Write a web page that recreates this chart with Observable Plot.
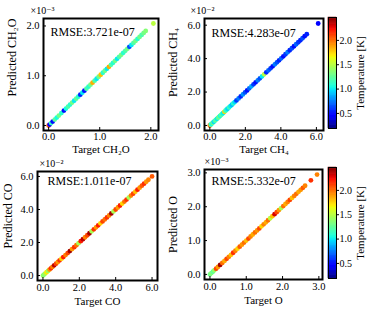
<!DOCTYPE html>
<html><head><meta charset="utf-8">
<script src="https://cdn.jsdelivr.net/npm/d3@7"></script>
<script src="https://cdn.jsdelivr.net/npm/@observablehq/plot@0.6"></script>
<style>
body{margin:0;background:#fff}
#wrap{position:relative;width:368px;height:312px;overflow:hidden;background:#fff}
#wrap svg{position:absolute}
</style></head><body><div id="wrap"></div>
<script>
// ---- data (values in the units shown on the axes) ----
const ch2oTarget = [0.00,0.02,0.05,0.08,0.12,0.16,0.20,0.25,0.30,0.34,0.38,0.42,0.46,0.50,0.54,0.58,0.62,0.66,0.70,0.74,0.78,0.82,0.86,0.90,0.94,0.98,1.02,1.06,1.10,1.14,1.18,1.22,1.26,1.30,1.34,1.38,1.42,1.46,1.50,1.54,1.58,1.62,1.66,1.70,1.74,1.78,1.82,1.86,1.90,2.05];
const ch2oPred   = [0.00,0.02,0.05,0.08,0.12,0.16,0.20,0.25,0.30,0.34,0.38,0.42,0.46,0.50,0.54,0.58,0.62,0.66,0.70,0.74,0.78,0.82,0.86,0.90,0.94,0.98,1.02,1.06,1.10,1.14,1.18,1.22,1.26,1.30,1.34,1.38,1.42,1.46,1.50,1.54,1.58,1.62,1.66,1.70,1.74,1.78,1.82,1.86,1.90,2.05];
const ch2oTemp   = [2.05,0.45,1.15,0.50,1.25,1.05,1.30,1.10,0.50,1.05,1.20,1.10,1.30,1.00,1.25,1.10,0.55,1.00,0.50,1.20,1.10,1.30,1.85,1.20,1.00,1.30,1.80,1.10,1.30,1.00,1.85,1.20,1.10,1.30,1.00,1.20,1.30,1.10,1.20,1.30,0.65,1.00,1.20,1.30,1.10,1.30,1.20,1.30,1.35,1.50];

const ch4Target = [0.00,0.05,0.10,0.16,0.22,0.28,0.34,0.40,0.46,0.52,0.58,0.64,0.70,0.76,0.82,0.88,0.94,1.00,1.08,1.16,1.24,1.32,1.40,1.50,1.62,1.74,1.86,1.98,2.10,2.22,2.34,2.46,2.58,2.70,2.82,2.94,3.06,3.18,3.30,3.42,3.54,3.66,3.78,3.90,4.02,4.14,4.26,4.38,4.50,4.62,4.74,4.86,4.98,5.10,5.22,5.34,5.46,6.10];
const ch4Pred   = [0.00,0.05,0.10,0.16,0.22,0.28,0.34,0.40,0.46,0.52,0.58,0.64,0.70,0.76,0.82,0.88,0.94,1.00,1.08,1.16,1.24,1.32,1.40,1.50,1.62,1.74,1.86,1.98,2.10,2.22,2.34,2.46,2.58,2.70,2.82,2.94,3.06,3.18,3.30,3.42,3.54,3.66,3.78,3.90,4.02,4.14,4.26,4.38,4.50,4.62,4.74,4.86,4.98,5.10,5.22,5.34,5.46,6.10];
const ch4Temp   = [2.00,1.20,1.05,1.30,0.95,1.15,1.25,1.00,1.20,1.30,1.05,1.25,1.10,1.00,1.75,1.20,1.10,0.95,1.15,1.00,0.90,1.10,0.95,0.60,0.75,0.55,0.80,0.65,0.50,0.70,0.85,0.60,0.50,0.75,0.65,1.00,1.50,0.55,0.70,0.60,0.50,0.75,0.65,0.55,0.70,0.50,0.60,0.75,0.55,0.65,0.50,0.70,0.60,0.55,0.65,0.50,0.55,0.45];

const coTarget = [0.00,0.06,0.12,0.20,0.28,0.36,0.44,0.52,0.62,0.72,0.82,0.92,1.02,1.12,1.24,1.36,1.48,1.60,1.72,1.84,1.96,2.08,2.20,2.32,2.44,2.56,2.68,2.80,2.92,3.04,3.16,3.28,3.40,3.52,3.64,3.76,3.88,4.00,4.12,4.24,4.36,4.48,4.60,4.72,4.84,4.96,5.08,5.20,5.32,5.44,5.56,5.68,5.80,6.00];
const coPred   = [0.00,0.06,0.12,0.20,0.28,0.36,0.44,0.52,0.62,0.72,0.82,0.92,1.02,1.12,1.24,1.36,1.48,1.60,1.72,1.84,1.96,2.08,2.20,2.32,2.44,2.56,2.68,2.80,2.92,3.04,3.16,3.28,3.40,3.52,3.64,3.76,3.88,4.00,4.12,4.24,4.36,4.48,4.60,4.72,4.84,4.96,5.08,5.20,5.32,5.44,5.56,5.68,5.80,6.00];
const coTemp   = [1.40,1.35,1.45,1.70,1.40,1.90,2.15,1.95,2.35,2.10,1.90,2.15,1.75,2.20,1.95,2.10,2.40,1.90,2.15,2.00,1.45,2.20,2.35,1.95,2.10,2.40,1.45,2.15,1.90,2.20,1.75,2.10,2.00,2.15,1.95,2.40,1.45,2.10,1.90,2.20,1.75,2.00,2.15,1.45,1.95,2.10,1.80,2.20,1.90,2.05,2.15,1.90,1.95,2.05];

const oTarget = [0.00,0.04,0.08,0.12,0.17,0.22,0.28,0.34,0.40,0.46,0.52,0.58,0.64,0.70,0.76,0.82,0.88,0.94,1.00,1.06,1.12,1.18,1.24,1.30,1.36,1.42,1.48,1.54,1.60,1.66,1.72,1.78,1.84,1.90,1.96,2.02,2.08,2.14,2.20,2.26,2.32,2.38,2.44,2.50,2.56,2.62,2.78,2.95];
const oPred   = [0.00,0.04,0.08,0.12,0.17,0.22,0.28,0.34,0.40,0.46,0.52,0.58,0.64,0.70,0.76,0.82,0.88,0.94,1.00,1.06,1.12,1.18,1.24,1.30,1.36,1.42,1.48,1.54,1.60,1.66,1.72,1.78,1.84,1.90,1.96,2.02,2.08,2.14,2.20,2.26,2.32,2.38,2.44,2.50,2.56,2.62,2.78,2.95];
const oTemp   = [1.30,1.35,1.25,1.40,2.10,1.90,2.40,2.00,1.85,2.10,1.95,1.80,2.15,1.95,1.75,2.05,1.90,2.00,1.80,2.10,1.95,1.85,2.00,1.90,2.10,1.75,1.95,1.85,2.00,1.50,1.80,2.30,2.10,1.90,1.45,2.00,1.85,1.95,2.10,1.80,1.95,2.00,1.85,1.90,2.05,1.95,2.15,1.95];

const ticksCH2O = [0.0, 1.0, 2.0];
const ticksCH4 = [0.0, 2.0, 4.0, 6.0];
const ticksCO = [0.0, 2.0, 4.0, 6.0];
const ticksO = [0.0, 1.0, 2.0, 3.0];
const colorbarTicks = [0.5, 1.0, 1.5, 2.0];
const tempDomain = [0.19, 2.47];

const xLabels = ["Target CH₂O", "Target CH₄", "Target CO", "Target O"];
const yLabels = ["Predicted CH₂O", "Predicted CH₄", "Predicted CO", "Predicted O"];
const exponents = ["×10⁻³", "×10⁻²", "×10⁻²", "×10⁻³"];
const rmseLabels = ["RMSE:3.721e-07", "RMSE:4.283e-07", "RMSE:1.011e-07", "RMSE:5.332e-07"];
const colorbarLabel = "Temperature [K]";

// ---- jet colormap ----
const jetR=[[0,0],[0.35,0],[0.66,1],[0.89,1],[1,0.5]];
const jetG=[[0,0],[0.125,0],[0.375,1],[0.64,1],[0.91,0],[1,0]];
const jetB=[[0,0.5],[0.11,1],[0.34,1],[0.65,0],[1,0]];
function seg(s,t){for(let i=1;i<s.length;i++){if(t<=s[i][0]){const [t0,v0]=s[i-1],[t1,v1]=s[i];return v0+(v1-v0)*(t-t0)/(t1-t0);}}return s[s.length-1][1];}
function jet(t){t=Math.max(0,Math.min(1,t));return d3.rgb(255*seg(jetR,t),255*seg(jetG,t),255*seg(jetB,t)).formatHex();}
const colorScale = {type:"linear", domain: tempDomain, interpolate: jet};

const FONT = '"Liberation Serif", "Times New Roman", "DejaVu Serif", serif';
const wrap = document.getElementById("wrap");
const fmt = d3.format(".1f");

const panels = [
  {target:ch2oTarget, pred:ch2oPred, temp:ch2oTemp, ticks:ticksCH2O, domain:[-0.1,2.15],
   left:0, top:0, w:162, m:[18,4,26,43], ylab:-31, ylabDy:-17, expDx:-13, rDx:7, rDy:14, xlab:19, tp:2},
  {target:ch4Target, pred:ch4Pred, temp:ch4Temp, ticks:ticksCH4, domain:[-0.3,6.4],
   left:162, top:0, w:164, m:[18,3,26,42], ylab:-31, ylabDy:-12, expDx:-14, rDx:7, rDy:15, xlab:19, tp:2},
  {target:coTarget, pred:coPred, temp:coTemp, ticks:ticksCO, domain:[-0.3,6.3],
   left:0, top:156, w:162, m:[15,5,32,37], ylab:-29, ylabDy:-10, expDx:2, rDx:10, rDy:10, xlab:21, tp:3},
  {target:oTarget, pred:oPred, temp:oTemp, ticks:ticksO, domain:[-0.15,3.1],
   left:162, top:156, w:164, m:[13,4,33,42], ylab:-31, ylabDy:0, expDx:0, rDx:7, rDy:12, xlab:21, tp:3}
];

panels.forEach((p, k) => {
  const rows = p.target.map((t,i)=>({t, pr:p.pred[i], temp:p.temp[i]}));
  const [mt,mr,mb,ml] = p.m;
  const H = 156, pw = p.w-ml-mr, ph = H-mt-mb;
  const svg = Plot.plot({
    width:p.w, height:H, marginTop:mt, marginRight:mr, marginBottom:mb, marginLeft:ml,
    style:{fontFamily:FONT, fontSize:"11px", background:"transparent", overflow:"visible", color:"black"},
    x:{domain:p.domain}, y:{domain:p.domain},
    color:colorScale,
    marks:[
      Plot.dot(rows,{x:"t", y:"pr", fill:"temp", r:2.4}),
      Plot.tickX(p.ticks,{x:d=>d, insetTop:ph-3, stroke:"black"}),
      Plot.tickY(p.ticks,{y:d=>d, insetRight:pw-3, stroke:"black"}),
      Plot.frame({stroke:"black", strokeWidth:2}),
      Plot.axisX(p.ticks,{tickSize:0, tickPadding:p.tp, tickFormat:fmt, label:null, fontSize:10.5}),
      Plot.axisY(p.ticks,{tickSize:0, tickPadding:4, tickFormat:fmt, label:null, fontSize:10.5}),
      Plot.text([xLabels[k]],{text:d=>d, frameAnchor:"bottom", dy:p.xlab, lineAnchor:"middle", textAnchor:"middle", fontSize:11}),
      Plot.text([yLabels[k]],{text:d=>d, frameAnchor:"left", dx:p.ylab, dy:p.ylabDy, rotate:-90, textAnchor:"middle", lineAnchor:"middle", fontSize:12}),
      Plot.text([exponents[k]],{text:d=>d, frameAnchor:"top-left", dx:p.expDx, dy:-8, textAnchor:"start", lineAnchor:"middle", fontSize:10}),
      Plot.text([rmseLabels[k]],{text:d=>d, frameAnchor:"top-left", dx:p.rDx, dy:p.rDy, textAnchor:"start", lineAnchor:"middle", fontSize:12})
    ]
  });
  svg.style.left = p.left+"px"; svg.style.top = p.top+"px";
  wrap.appendChild(svg);
});

// ---- colorbars ----
const cbLevels = d3.range(0, 201).map(i => tempDomain[0] + i*(tempDomain[1]-tempDomain[0])/200);
[{top:0, mt:17, mb:28},{top:156, mt:11, mb:34}].forEach(c => {
  const bands = cbLevels.slice(0,-1).map((v,i)=>({y1:v, y2:cbLevels[i+1], v:(v+cbLevels[i+1])/2}));
  const svg = Plot.plot({
    width:42, height:156, marginTop:c.mt, marginBottom:c.mb, marginLeft:2, marginRight:32,
    style:{fontFamily:FONT, fontSize:"10px", background:"transparent", overflow:"visible", color:"black"},
    y:{domain:tempDomain},
    color:colorScale,
    marks:[
      Plot.rectY(bands,{y1:"y1", y2:"y2", fill:"v", stroke:"v", strokeWidth:0.5}),
      Plot.frame({stroke:"black", strokeWidth:1}),
      Plot.axisY(colorbarTicks,{anchor:"right", tickSize:2, tickPadding:1, tickFormat:fmt, label:null, fontSize:10}),
      Plot.text([colorbarLabel],{text:d=>d, frameAnchor:"right", dx:24, rotate:-90, textAnchor:"middle", lineAnchor:"middle", fontSize:11})
    ]
  });
  svg.style.left = "326px"; svg.style.top = c.top+"px";
  wrap.appendChild(svg);
});
</script></body></html>
